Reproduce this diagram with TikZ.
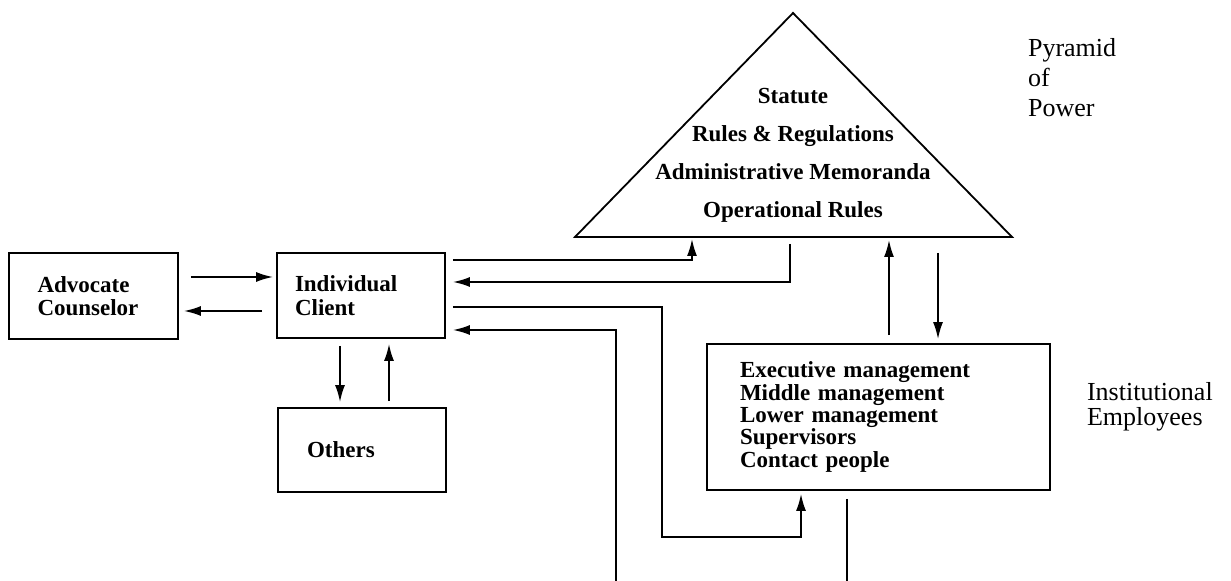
\documentclass[tikz,border=0pt]{standalone}
\usepackage{fontspec}
\setmainfont{Liberation Serif}
\usetikzlibrary{arrows.meta,calc}
\tikzset{
  box/.style={draw, line width=.9pt, align=left, inner ysep=0pt, font=\bfseries\fontsize{11.5}{11.8}\selectfont},
  link/.style={line width=.9pt, -{Latex[length=8.5pt,width=5pt]}},
  side/.style={align=left, anchor=west, font=\fontsize{13}{15}\selectfont}
}
\begin{document}
\begin{tikzpicture}[x=.5pt, y=-.5pt]
    \useasboundingbox (0,0) rectangle (1231,581);

    % boxes
    \node[box, minimum width=84.5pt, minimum height=43pt, text width=56pt, inner xsep=14pt] (adv) at (93.5,296) {Advocate\\Counselor};
    \node[box, minimum width=84pt, minimum height=42.5pt, text width=66pt, inner xsep=9pt] (client) at (361,295.5) {Individual\\Client};
    \node[box, minimum width=84pt, minimum height=42pt, text width=55pt, inner xsep=14.5pt] (others) at (362,450) {Others};
    \node[box, minimum width=171.5pt, minimum height=73pt, text width=138.5pt, inner xsep=16.5pt,
          font=\bfseries\fontsize{11.5}{11.2}\selectfont] (exec) at (878.5,417)
        {Executive management\\Middle management\\Lower management\\Supervisors\\Contact people};

    % pyramid
    \coordinate (pl) at (575,237);
    \coordinate (ptop) at (793,13);
    \coordinate (pr) at (1012,237);
    \draw[line width=.9pt] (pl) -- (ptop) -- (pr) -- cycle;
    \node[align=center, font=\bfseries\fontsize{11.5}{19}\selectfont] (rules) at (793,155)
        {Statute\\Rules \& Regulations\\Administrative Memoranda\\Operational Rules};

    \node[side] (pyrlabel) at (1021,78) {Pyramid\\of\\Power};
    \node[side, font=\fontsize{13}{12.5}\selectfont] (emplabel) at (1080,407) {Institutional\\Employees};

    % links
    \draw[link] ($(adv.east |- 0,277)+(12,0)$) -- ($(client.west |- 0,277)+(-3,0)$);
    \draw[link] ($(client.west |- 0,311)+(-14,0)$) -- ($(adv.east |- 0,311)+(5,0)$);
    \draw[link] ($(client.south -| 340,0)+(0,7)$) -- ($(others.north -| 340,0)+(0,-5)$);
    \draw[link] ($(others.north -| 389,0)+(0,-6)$) -- ($(client.south -| 389,0)+(0,5)$);

    \draw[link] ($(client.east |- 0,260)+(7,0)$) -| ($(692,0 |- pl)+(0,2)$);
    \draw[link] ($(790,0 |- pl)+(0,7)$) |- ($(client.east |- 0,282)+(7,0)$);

    \coordinate (bend) at (662,537);
    \draw[link] ($(client.east |- 0,307)+(7,0)$) -| (bend) -| ($(exec.south -| 801,0)+(0,3)$);
    \coordinate (infeed) at (616,581);
    \draw[link] (infeed) |- ($(client.east |- 0,330)+(7,0)$);
    \coordinate (outfeed) at (847,581);
    \draw[line width=.9pt] ($(exec.south -| 847,0)+(0,8)$) -- (outfeed);

    \draw[link] ($(exec.north -| 889,0)+(0,-8)$) -- ($(889,0 |- pl)+(0,3)$);
    \draw[link] ($(938,0 |- pl)+(0,16)$) -- ($(exec.north -| 938,0)+(0,-4)$);

\end{tikzpicture}
\end{document}
